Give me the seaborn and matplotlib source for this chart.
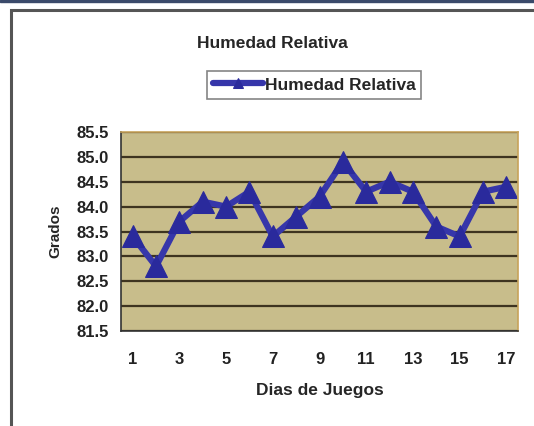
import numpy as np
import pandas as pd
import seaborn as sns
import matplotlib.pyplot as plt
from matplotlib.ticker import MultipleLocator, FixedLocator

dias = list(range(1, 18))
humedad = [83.4, 82.8, 83.7, 84.1, 84.0, 84.3, 83.4, 83.8, 84.2,
           84.9, 84.3, 84.5, 84.3, 83.6, 83.4, 84.3, 84.4]
etiquetas_x = [1, 3, 5, 7, 9, 11, 13, 15, 17]

df = pd.DataFrame({"Dia": dias, "Humedad Relativa": humedad})

sns.set_style("white")
plt.rcParams["font.family"] = ["Liberation Sans", "DejaVu Sans"]

fig = plt.figure(figsize=(5.34, 4.26), dpi=100)
ax = fig.add_axes([121 / 534, 1 - 331 / 426, (518 - 121) / 534, (331 - 132) / 426])

# Marco exterior del grafico
fig.patches.append(plt.Rectangle((11 / 534, -0.05), 1.2, 1 - 10 / 426 + 0.05,
                                 transform=fig.transFigure, fill=False,
                                 edgecolor="#555555", linewidth=2.2))
fig.patches.append(plt.Rectangle((0, 1 - 2 / 426), 1, 2 / 426,
                                 transform=fig.transFigure, color="#3a4a6a"))

ax.set_facecolor("#c8bd8b")

sns.lineplot(
    data=df,
    x="Dia",
    y="Humedad Relativa",
    ax=ax,
    color="#3636aa",
    linewidth=4.5,
    marker="^",
    markersize=16,
    markerfacecolor="#2a2a9c",
    markeredgecolor="#2a2a9c",
    label="Humedad Relativa",
)

ax.set_xlim(0.5, 17.5)
ax.set_ylim(81.5, 85.5)
ax.yaxis.set_major_locator(MultipleLocator(0.5))
ax.yaxis.set_major_formatter(plt.FormatStrFormatter("%.1f"))
ax.xaxis.set_major_locator(FixedLocator(etiquetas_x))
ax.xaxis.set_minor_locator(FixedLocator(np.arange(0.5, 18, 1)))

ax.grid(True, axis="y", color="#3e3420", linewidth=1.6)
ax.grid(False, axis="x")
for s in ax.spines.values():
    s.set_color("#c7a35a")
    s.set_linewidth(1.2)
ax.spines["bottom"].set_color("#333333")
ax.spines["left"].set_color("#333333")

ax.tick_params(axis="x", which="major", length=0, pad=15, labelsize=12)
ax.tick_params(axis="x", which="minor", length=4, width=1, color="#333333", direction="out")
ax.tick_params(axis="y", which="major", length=4, width=1, color="#333333",
               direction="out", labelsize=12, pad=5)
for lbl in ax.get_xticklabels() + ax.get_yticklabels():
    lbl.set_fontweight("bold")
    lbl.set_color("#222222")

ax.set_xlabel("Dias de Juegos", fontsize=12.5, fontweight="bold", labelpad=12)
ax.set_ylabel("Grados", fontsize=11, fontweight="bold", labelpad=10)

fig.text(272 / 534, 1 - 43 / 426, "Humedad Relativa", ha="center", va="center",
         fontsize=12.5, fontweight="bold")

leg = ax.legend(loc="center", bbox_to_anchor=(314 / 534, 1 - 85 / 426),
                bbox_transform=fig.transFigure, frameon=True, fancybox=False,
                prop={"weight": "bold", "size": 12.5}, handlelength=2.9,
                handletextpad=0.1, borderpad=0.35, markerscale=0.45)
leg.get_frame().set_edgecolor("#666666")
leg.get_frame().set_linewidth(1.2)

plt.savefig("out.png", dpi=100)
